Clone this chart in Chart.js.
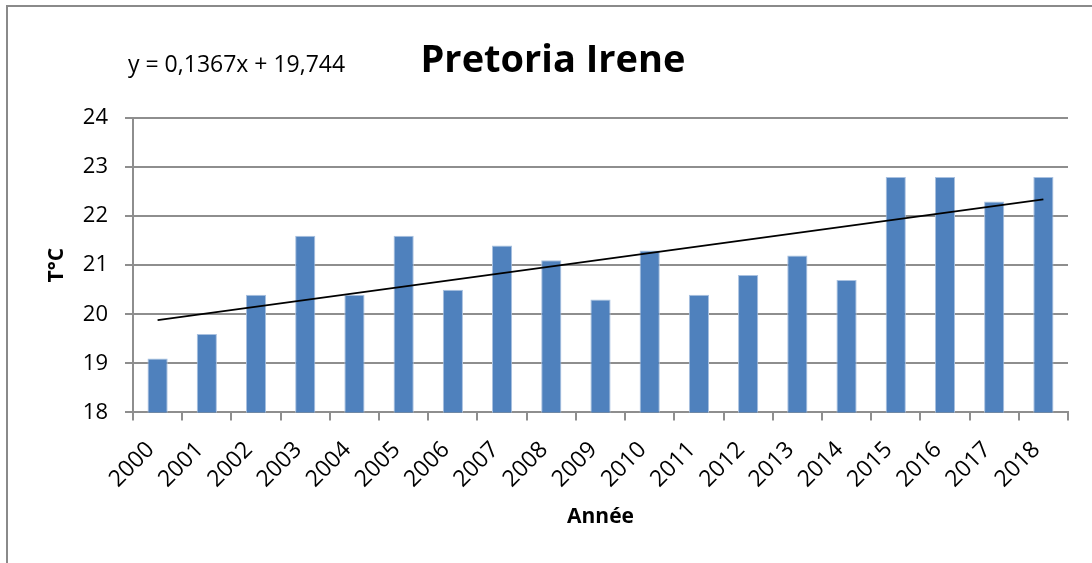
<!DOCTYPE html>
<html><head><meta charset="utf-8">
<script src="https://cdn.jsdelivr.net/npm/chart.js@4/dist/chart.umd.min.js"></script>
<style>html,body{margin:0;padding:0;background:#fff;overflow:hidden}</style>
</head><body>
<canvas id="c" width="1092" height="563"></canvas>
<script>
const years = ['2000','2001','2002','2003','2004','2005','2006','2007','2008','2009','2010','2011','2012','2013','2014','2015','2016','2017','2018'];
const temperatures = [19.1,19.6,20.4,21.6,20.4,21.6,20.5,21.4,21.1,20.3,21.3,20.4,20.8,21.2,20.7,22.8,22.8,22.3,22.8];
const trendEnds = [19.88, 22.34];
const yTicks = [18,19,20,21,22,23,24];
const titleText = 'Pretoria Irene';
const equationText = 'y = 0,1367x + 19,744';
const xTitleText = 'Année';
const yTitleText = 'T°C';

const trendData = years.map((_, i) => i === 0 ? trendEnds[0] : (i === years.length - 1 ? trendEnds[1] : null));

const FONT = "'Open Sans', 'Liberation Sans', sans-serif";
const GRID = '#8e8e8e';

const decor = {
  id: 'decor',
  beforeDraw(chart) {
    const ctx = chart.ctx;
    ctx.save();
    ctx.fillStyle = '#fff';
    ctx.fillRect(0, 0, chart.width, chart.height);
    ctx.strokeStyle = '#8a8a8a';
    ctx.lineWidth = 2;
    ctx.beginPath();
    ctx.moveTo(7, 563);
    ctx.lineTo(7, 6);
    ctx.lineTo(1092, 6);
    ctx.stroke();
    ctx.restore();
  },
  afterDraw(chart) {
    const ctx = chart.ctx;
    ctx.save();
    ctx.fillStyle = '#000';
    ctx.textBaseline = 'alphabetic';
    ctx.textAlign = 'center';
    ctx.font = "bold 38px " + FONT;
    ctx.fillText(titleText, 553, 72);
    ctx.textAlign = 'left';
    ctx.font = "23px " + FONT;
    ctx.fillText(equationText, 128, 72);
    ctx.restore();
  }
};

new Chart(document.getElementById('c'), {
  type: 'bar',
  data: {
    labels: years,
    datasets: [
      {
        type: 'line',
        data: trendData,
        borderColor: '#000',
        borderWidth: 1.8,
        pointRadius: 0,
        spanGaps: true,
        fill: false,
        order: 0
      },
      {
        type: 'bar',
        data: temperatures,
        backgroundColor: '#4F81BD',
        borderColor: '#a9c1e0',
        borderWidth: 1,
        barPercentage: 0.41,
        categoryPercentage: 1,
        order: 1
      }
    ]
  },
  options: {
    responsive: false,
    animation: false,
    devicePixelRatio: 1,
    layout: { padding: { left: 40, top: 118, right: 24, bottom: 29 } },
    plugins: { legend: { display: false }, tooltip: { enabled: false }, title: { display: false } },
    scales: {
      x: {
        offset: true,
        grid: { drawOnChartArea: false, drawTicks: true, tickLength: 8, color: GRID, lineWidth: 2, offset: true },
        border: { color: GRID, width: 2 },
        ticks: { color: '#000', font: { family: FONT, size: 23 }, maxRotation: 45, minRotation: 45, padding: 16, labelOffset: -7, autoSkip: false },
        title: { display: true, text: xTitleText, color: '#000', font: { family: FONT, size: 21, weight: 'bold' } },
        afterFit(s) { s.height = 121.6; }
      },
      y: {
        min: 18, max: 24,
        afterBuildTicks(s) { s.ticks = yTicks.map(v => ({ value: v })); },
        grid: { color: GRID, lineWidth: 2, tickLength: 8, drawTicks: true },
        border: { color: GRID, width: 2 },
        ticks: { color: '#000', font: { family: FONT, size: 22 }, padding: 17 },
        title: { display: true, text: yTitleText, color: '#000', font: { family: FONT, size: 21, weight: 'bold' } },
        afterFit(s) { s.width = 93; }
      }
    }
  },
  plugins: [decor]
});
</script>
</body></html>
